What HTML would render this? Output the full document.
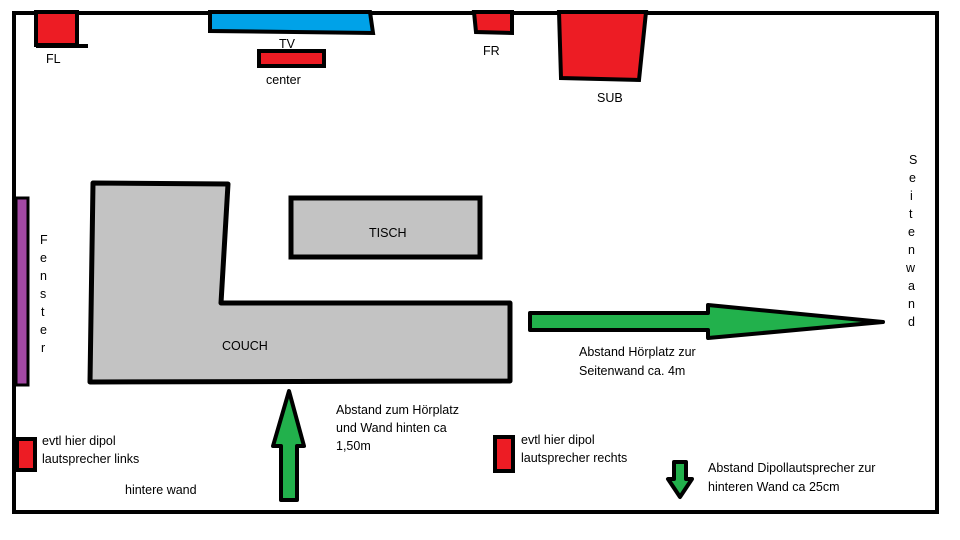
<!DOCTYPE html>
<html><head><meta charset="utf-8"><style>
html,body{margin:0;padding:0;background:#fff;}
svg{display:block;}
text{font-family:"Liberation Sans","DejaVu Sans",sans-serif;font-size:12.5px;fill:#000;}
</style></head><body>
<svg width="960" height="540" viewBox="0 0 960 540" xmlns="http://www.w3.org/2000/svg">
<rect width="960" height="540" fill="#fff"/>
<rect x="14" y="13" width="923" height="499" fill="none" stroke="#000" stroke-width="4"/>
<rect x="36" y="12" width="41" height="33" fill="#ed1c24" stroke="#000" stroke-width="4"/>
<line x1="36" y1="46" x2="88" y2="46" stroke="#000" stroke-width="4"/>
<text x="46" y="63">FL</text>
<polygon points="210,12 370,12 373,33 210,31" fill="#00a2e8" stroke="#000" stroke-width="4"/>
<text x="279" y="48">TV</text>
<rect x="259" y="51" width="65" height="15" fill="#ed1c24" stroke="#000" stroke-width="4"/>
<text x="266" y="84">center</text>
<polygon points="474,12 512,12 512,33 476,32" fill="#ed1c24" stroke="#000" stroke-width="4"/>
<text x="483" y="55">FR</text>
<polygon points="559,12 646,12 639,80 561,78" fill="#ed1c24" stroke="#000" stroke-width="4"/>
<text x="597" y="102">SUB</text>
<rect x="16" y="198" width="12" height="187" fill="#a349a4" stroke="#000" stroke-width="3"/>
<text x="40" y="244">F</text><text x="40" y="262">e</text><text x="40" y="280">n</text>
<text x="40" y="298">s</text><text x="41" y="316">t</text><text x="40" y="334">e</text><text x="41" y="352">r</text>
<text x="909" y="164">S</text><text x="909" y="182">e</text><text x="910" y="200">i</text>
<text x="909" y="218">t</text><text x="908" y="236">e</text><text x="908" y="254">n</text>
<text x="906" y="272">w</text><text x="908" y="290">a</text><text x="908" y="308">n</text><text x="908" y="326">d</text>
<polygon points="93,183 228,184 221,303 510,303 510,381 90,382" fill="#c3c3c3" stroke="#000" stroke-width="5" stroke-linejoin="round"/>
<text x="222" y="350">COUCH</text>
<rect x="291" y="198" width="189" height="59" fill="#c3c3c3" stroke="#000" stroke-width="5"/>
<text x="369" y="237">TISCH</text>
<polygon points="530,313 708,313 708,305 883,322 708,338 708,330 530,330" fill="#22b14c" stroke="#000" stroke-width="4" stroke-linejoin="round"/>
<text x="579" y="356">Abstand Hörplatz zur</text>
<text x="579" y="375">Seitenwand ca. 4m</text>
<polygon points="289,391 304,446 297,446 297,500 281,500 281,446 273,446" fill="#22b14c" stroke="#000" stroke-width="4" stroke-linejoin="round"/>
<text x="336" y="414">Abstand zum Hörplatz</text>
<text x="336" y="432">und Wand hinten ca</text>
<text x="336" y="450">1,50m</text>
<polygon points="674,462 686,462 686,479 692,479 680,497 668,479 674,479" fill="#22b14c" stroke="#000" stroke-width="4" stroke-linejoin="round"/>
<text x="708" y="472">Abstand Dipollautsprecher zur</text>
<text x="708" y="491">hinteren Wand ca 25cm</text>
<rect x="17" y="439" width="18" height="31" fill="#ed1c24" stroke="#000" stroke-width="4"/>
<text x="42" y="445">evtl hier dipol</text>
<text x="42" y="463">lautsprecher links</text>
<rect x="495" y="437" width="18" height="34" fill="#ed1c24" stroke="#000" stroke-width="4"/>
<text x="521" y="444">evtl hier dipol</text>
<text x="521" y="462">lautsprecher rechts</text>
<text x="125" y="494">hintere wand</text>
</svg>
</body></html>
